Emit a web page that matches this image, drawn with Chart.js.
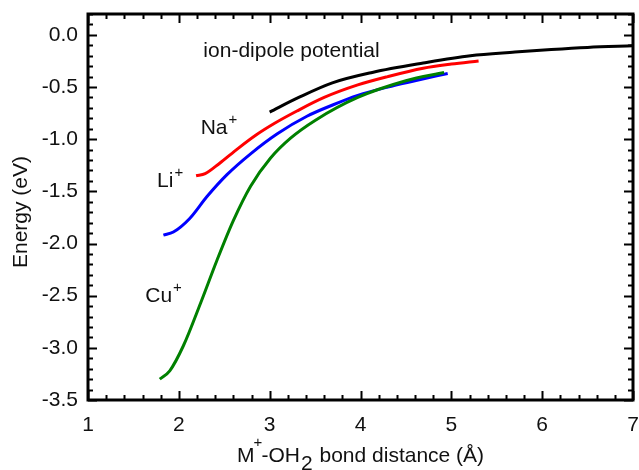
<!DOCTYPE html>
<html>
<head>
<meta charset="utf-8">
<script src="https://cdn.jsdelivr.net/npm/chart.js@4.4.1/dist/chart.umd.min.js"></script>
<style>
	html, body { margin: 0; padding: 0; background: #ffffff; }
	#wrap { width: 639px; height: 470px; }
</style>
</head>
<body>
<div id="wrap"><canvas id="chart" width="639" height="470"></canvas></div>
<script>
// values: bond distance (Å) and energy (eV)
const dipoleX = [3.0, 3.32, 3.69, 4.13, 4.69, 5.21, 5.7, 6.1, 6.5, 7.0];
const dipoleY = [-0.74, -0.60, -0.46, -0.36, -0.27, -0.20, -0.165, -0.14, -0.12, -0.105];

const naX = [2.19, 2.29, 2.45, 2.65, 2.85, 3.05, 3.3, 3.6, 3.97, 4.3, 4.69, 5.0, 5.3];
const naY = [-1.35, -1.33, -1.23, -1.09, -0.96, -0.85, -0.73, -0.60, -0.48, -0.40, -0.32, -0.28, -0.25];

const liX = [1.83, 1.94, 2.12, 2.31, 2.53, 2.79, 3.08, 3.41, 3.7, 3.97, 4.3, 4.6, 4.96];
const liY = [-1.92, -1.89, -1.76, -1.55, -1.34, -1.14, -0.95, -0.78, -0.67, -0.58, -0.50, -0.44, -0.37];

const cuX = [1.79, 1.90, 2.05, 2.24, 2.42, 2.60, 2.79, 3.01, 3.23, 3.5, 3.97, 4.5, 4.92];
const cuY = [-3.30, -3.22, -2.98, -2.57, -2.16, -1.78, -1.45, -1.18, -0.99, -0.82, -0.60, -0.44, -0.36];

const xTicks = [1, 2, 3, 4, 5, 6, 7];
const yTicks = [0.0, -0.5, -1.0, -1.5, -2.0, -2.5, -3.0, -3.5];

// text labels placed in data coordinates (left edge, baseline)
const curveLabels = [
	{ text: "ion-dipole potential", sup: "", x: 2.27, y: -0.21 },
	{ text: "Na", sup: "+", x: 2.24, y: -0.95 },
	{ text: "Li", sup: "+", x: 1.76, y: -1.46 },
	{ text: "Cu", sup: "+", x: 1.63, y: -2.56 }
];

const FONT = "'Liberation Sans', Arial, sans-serif";
const FSIZE = 21;

function pts(xs, ys)
{
	return xs.map((x, i) => ({ x: x, y: ys[i] }));
}

function curve(label, xs, ys, color)
{
	return {
		label: label,
		data: pts(xs, ys),
		borderColor: color,
		borderWidth: 3,
		pointRadius: 0,
		fill: false,
		cubicInterpolationMode: 'monotone'
	};
}

const framePlugin =
{
	id: 'frame',
	afterDraw(chart)
	{
		const ctx = chart.ctx;
		const a = chart.chartArea;
		const xs = chart.scales.x;
		const ys = chart.scales.y;
		ctx.save();

		// inward ticks on all four sides
		ctx.strokeStyle = "#000";
		ctx.lineWidth = 2;
		ctx.beginPath();
		for(let i = 0; i <= 30; i++)
		{
			const v = 1 + i * 0.2;
			const len = (i % 5 == 0) ? 9 : 5;
			const px = Math.round(xs.getPixelForValue(v)) + 0.5;
			ctx.moveTo(px, a.bottom); ctx.lineTo(px, a.bottom - len);
			ctx.moveTo(px, a.top); ctx.lineTo(px, a.top + len);
		}
		for(let i = 0; i <= 37; i++)
		{
			const v = -3.5 + i * 0.1;
			const len = (i % 5 == 0) ? 9 : 5;
			const py = Math.round(ys.getPixelForValue(v)) + 0.5;
			ctx.moveTo(a.left, py); ctx.lineTo(a.left + len, py);
			ctx.moveTo(a.right, py); ctx.lineTo(a.right - len, py);
		}
		ctx.stroke();

		ctx.lineWidth = 3;
		ctx.strokeRect(a.left, a.top, a.right - a.left, a.bottom - a.top);

		// curve labels
		ctx.fillStyle = "#111";
		ctx.textBaseline = "alphabetic";
		ctx.textAlign = "left";
		for(let l of curveLabels)
		{
			const px = xs.getPixelForValue(l.x);
			const py = ys.getPixelForValue(l.y);
			ctx.font = FSIZE + "px " + FONT;
			ctx.fillText(l.text, px, py);
			if(l.sup)
			{
				const w = ctx.measureText(l.text).width;
				ctx.font = "15px " + FONT;
				ctx.fillText(l.sup, px + w + 1, py - 10);
			}
		}

		// x axis title: M+-OH2 bond distance (Å)
		let cx = 237;
		const by = 462;
		ctx.font = FSIZE + "px " + FONT;
		ctx.fillText("M", cx, by);
		cx += ctx.measureText("M").width;
		ctx.font = "15px " + FONT;
		ctx.fillText("+", cx - 1, by - 15);
		cx += 7;
		ctx.font = FSIZE + "px " + FONT;
		ctx.fillText("-OH", cx, by);
		cx += ctx.measureText("-OH").width;
		ctx.fillText("2", cx + 1, by + 8);
		cx += ctx.measureText("2").width + 2;
		ctx.fillText(" bond distance (\u00C5)", cx, by);

		// y axis title
		ctx.translate(27, 212);
		ctx.rotate(-Math.PI / 2);
		ctx.textAlign = "center";
		ctx.fillText("Energy (eV)", 0, 0);

		ctx.restore();
	}
};

new Chart(document.getElementById("chart"),
{
	type: 'line',
	data:
	{
		datasets:
		[
			curve("ion-dipole potential", dipoleX, dipoleY, "#000000"),
			curve("Na+", naX, naY, "#ff0000"),
			curve("Cu+", cuX, cuY, "#008000"),
			curve("Li+", liX, liY, "#0000ff")
		]
	},
	options:
	{
		responsive: false,
		animation: false,
		layout: { padding: { left: 0, top: 14, right: 6, bottom: 0 } },
		plugins:
		{
			legend: { display: false },
			tooltip: { enabled: false }
		},
		scales:
		{
			x:
			{
				type: 'linear',
				min: 1,
				max: 7,
				grid: { display: false, drawTicks: false, tickLength: 0 },
				border: { display: false },
				afterBuildTicks: (scale) => { scale.ticks = xTicks.map(v => ({ value: v })); },
				afterFit: (scale) => { scale.height = 70; scale.paddingLeft = 0; scale.paddingRight = 0; },
				ticks:
				{
					padding: 13,
					color: "#111",
					maxRotation: 0,
					font: { family: FONT, size: FSIZE },
					callback: (v) => String(v)
				}
			},
			y:
			{
				type: 'linear',
				min: -3.5,
				max: 0.2,
				grid: { display: false, drawTicks: false, tickLength: 0 },
				border: { display: false },
				afterBuildTicks: (scale) => { scale.ticks = yTicks.map(v => ({ value: v })); },
				afterFit: (scale) => { scale.width = 88; scale.paddingTop = 0; scale.paddingBottom = 0; },
				ticks:
				{
					padding: 10,
					color: "#111",
					font: { family: FONT, size: FSIZE },
					callback: (v) => v.toFixed(1)
				}
			}
		}
	},
	plugins: [framePlugin]
});
</script>
</body>
</html>
